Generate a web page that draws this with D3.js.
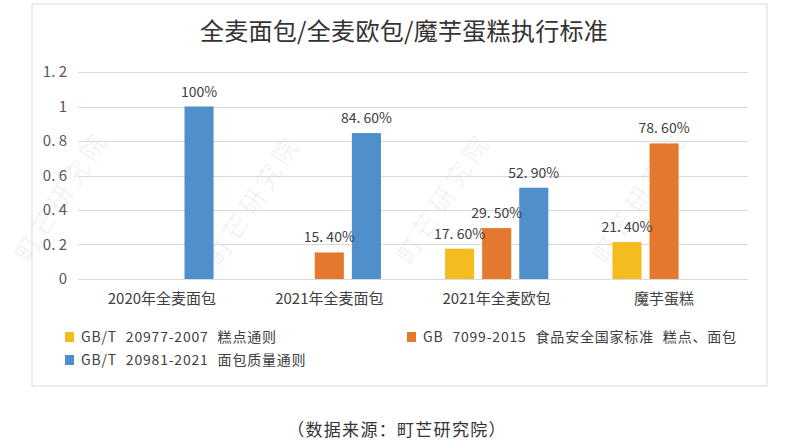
<!DOCTYPE html>
<html>
<head>
<meta charset="utf-8">
<script src="https://cdn.jsdelivr.net/npm/d3@7"></script>
<style>
  html, body { margin: 0; padding: 0; background: #fff; }
  svg { display: block; }
  text { font-family: "Noto Sans CJK SC", "DejaVu Sans", sans-serif; }
</style>
</head>
<body>
<svg id="chart" width="800" height="443"></svg>
<script>
// ---- data ----
const title = "全麦面包/全麦欧包/魔芋蛋糕执行标准";
const source = "（数据来源：町芒研究院）";
const categories = ["2020年全麦面包", "2021年全麦面包", "2021年全麦欧包", "魔芋蛋糕"];
const seriesNames = ["GB/T 20977-2007 糕点通则", "GB 7099-2015 食品安全国家标准 糕点、面包", "GB/T 20981-2021 面包质量通则"];
const seriesColors = ["#F4BC1E", "#E5782F", "#4F8FCB"];
// values per series (null = no bar)
const s1Values = [null, null, 0.176, 0.214];
const s2Values = [null, 0.154, 0.295, 0.786];
const s3Values = [1.0, 0.846, 0.529, null];
const yTicks = [0, 0.2, 0.4, 0.6, 0.8, 1, 1.2];
const watermark = "町芒研究院";

const seriesValues = [s1Values, s2Values, s3Values];

const svg = d3.select("#chart");

// watermark (faint, diagonal), only fully-visible copies
const wmCenters = [[62, 196], [254, 200], [444, 198], [640, 197]];
svg.append("g").attr("class", "watermark")
  .selectAll("text").data(wmCenters).join("text")
  .attr("transform", d => `translate(${d[0]},${d[1]}) rotate(-57)`)
  .attr("text-anchor", "middle")
  .attr("dy", "0.35em")
  .attr("font-size", 25)
  .attr("fill", "#000")
  .attr("fill-opacity", 0.06)
  .attr("letter-spacing", 5)
  .text(watermark);

// frame
svg.append("rect")
  .attr("x", 32).attr("y", 4).attr("width", 735).attr("height", 382)
  .attr("fill", "none").attr("stroke", "#D9D9D9").attr("stroke-width", 1);

// title
svg.append("text")
  .attr("x", 404).attr("y", 40)
  .attr("text-anchor", "middle")
  .attr("font-size", 24)
  .attr("letter-spacing", 0.3)
  .attr("fill", "#333")
  .text(title);

// scales
const x0 = d3.scaleBand().domain(categories).range([78.5, 747.5])
  .paddingInner(0.383).paddingOuter(0.19);
const x1 = d3.scaleBand().domain(d3.range(3)).range([0, x0.bandwidth()])
  .paddingInner(0.216).paddingOuter(0);
const y = d3.scaleLinear().domain([0, 1.2]).range([279, 72]);

// gridlines
svg.append("g").selectAll("line").data(yTicks).join("line")
  .attr("x1", 78).attr("x2", 748)
  .attr("y1", d => Math.round(y(d)) + 0.5).attr("y2", d => Math.round(y(d)) + 0.5)
  .attr("stroke", "#D9D9D9").attr("stroke-width", 1);

// y tick labels via axis
const yAxis = d3.axisLeft(y).tickValues(yTicks).tickSize(0).tickPadding(0)
  .tickFormat(d => d3.format("")(d).replace(".", ". "));
const gy = svg.append("g").attr("transform", "translate(67,0)").call(yAxis);
gy.select(".domain").remove();
gy.selectAll("text").attr("font-size", 15).attr("fill", "#595959")
  .attr("font-family", "\"Noto Sans CJK SC\", sans-serif");

// x axis labels
const xAxis = d3.axisBottom(x0).tickSize(0).tickPadding(0);
const gx = svg.append("g").attr("transform", "translate(0,293)").call(xAxis);
gx.select(".domain").remove();
gx.selectAll("text").attr("font-size", 15).attr("fill", "#404040")
  .attr("font-family", "\"Noto Sans CJK SC\", sans-serif");

// bars
const barData = [];
seriesValues.forEach((vals, si) => {
  vals.forEach((v, ci) => {
    if (v !== null) barData.push({ cat: categories[ci], s: si, v: v });
  });
});
const fmt = v => v === 1 ? "100%" : d3.format(".2%")(v).replace(".", ". ");

svg.append("g").selectAll("rect").data(barData).join("rect")
  .attr("x", d => x0(d.cat) + x1(d.s))
  .attr("y", d => y(d.v))
  .attr("width", x1.bandwidth())
  .attr("height", d => y(0) - y(d.v))
  .attr("fill", d => seriesColors[d.s]);

svg.append("g").selectAll("text").data(barData).join("text")
  .attr("x", d => x0(d.cat) + x1(d.s) + x1.bandwidth() / 2)
  .attr("y", d => y(d.v) - 10)
  .attr("text-anchor", "middle")
  .attr("font-size", 14)
  .attr("fill", "#404040")
  .text(d => fmt(d.v));

// legend
const legendPos = [[65, 337], [407, 337], [65, 360]];
const lg = svg.append("g").selectAll("g").data(seriesNames).join("g")
  .attr("transform", (d, i) => `translate(${legendPos[i][0]},${legendPos[i][1]})`);
lg.append("rect").attr("x", 0).attr("y", -5).attr("width", 9).attr("height", 10)
  .attr("fill", (d, i) => seriesColors[i]);
lg.append("text").attr("x", 16).attr("y", 0).attr("dy", "0.35em")
  .attr("font-size", 14).attr("letter-spacing", 0.8).attr("word-spacing", 5)
  .attr("fill", "#404040")
  .text(d => d);

// source
svg.append("text")
  .attr("x", 397).attr("y", 430).attr("dy", "0.35em")
  .attr("text-anchor", "middle")
  .attr("font-size", 17)
  .attr("letter-spacing", 1.3)
  .attr("fill", "#333")
  .text(source);
</script>
</body>
</html>
